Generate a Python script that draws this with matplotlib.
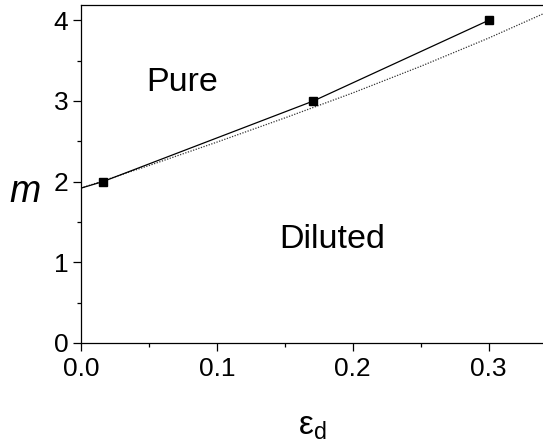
import matplotlib
matplotlib.use("Agg")
import matplotlib.pyplot as plt
from matplotlib.ticker import MultipleLocator

plt.rcParams['font.family'] = ['Liberation Sans', 'DejaVu Sans']
plt.rcParams['mathtext.fontset'] = 'custom'
plt.rcParams['mathtext.rm'] = 'Liberation Sans'
plt.rcParams['mathtext.it'] = 'Liberation Sans:italic'

# data
pts_x = [0.016, 0.171, 0.300]
pts_y = [2.0, 3.0, 4.0]
line_x = [0.0, 0.016, 0.171, 0.300]
line_y = [1.92, 2.0, 3.0, 4.0]
fit_x = [0.0, 0.05, 0.10, 0.15, 0.20, 0.25, 0.30, 0.34]
fit_y = [1.92, 2.20, 2.49, 2.79, 3.10, 3.43, 3.78, 4.08]

fig = plt.figure(figsize=(5.43, 4.45), dpi=100)
ax = fig.add_axes([81/543, 102/445, 1 - 81/543, (343-5)/445])

ax.plot(fit_x, fit_y, linestyle=(0, (1, 1.2)), color='#333333', lw=0.9)
ax.plot(line_x, line_y, color='black', lw=0.9)
ax.plot(pts_x, pts_y, linestyle='none', marker='s', color='black', ms=5.8)

ax.text(0.0743, 3.12, 'Pure', fontsize=24.5, ha='center', va='baseline')
ax.text(0.185, 1.18, 'Diluted', fontsize=24.5, ha='center', va='baseline')

ax.set_xlim(0, 0.34)
ax.set_ylim(0, 4.19)
ax.xaxis.set_minor_locator(MultipleLocator(0.05))
ax.yaxis.set_minor_locator(MultipleLocator(0.5))
ax.set_xticks([0.0, 0.1, 0.2, 0.3])
ax.set_xticklabels(['0.0', '0.1', '0.2', '0.3'])
ax.set_yticks([0, 1, 2, 3, 4])
ax.set_yticklabels(['0', '1', '2', '3', '4'])

ax.tick_params(which='major', direction='out', length=6, width=0.9, labelsize=19, pad=3)
ax.tick_params(which='minor', direction='out', length=3, width=0.9)
ax.tick_params(axis='x', which='major', pad=4)
ax.spines['right'].set_visible(False)
for s in ['left', 'bottom', 'top']:
    ax.spines[s].set_linewidth(0.9)

ax.set_xlabel(r'$\mathrm{ε}_\mathrm{d}$', fontsize=24, labelpad=22)
ax.set_ylabel('m', fontsize=27, style='italic', rotation=0, va='center', ha='center')
ax.yaxis.set_label_coords(-56/462, (343-192)/338, transform=ax.transAxes)

fig.savefig('out.png', dpi=100)
